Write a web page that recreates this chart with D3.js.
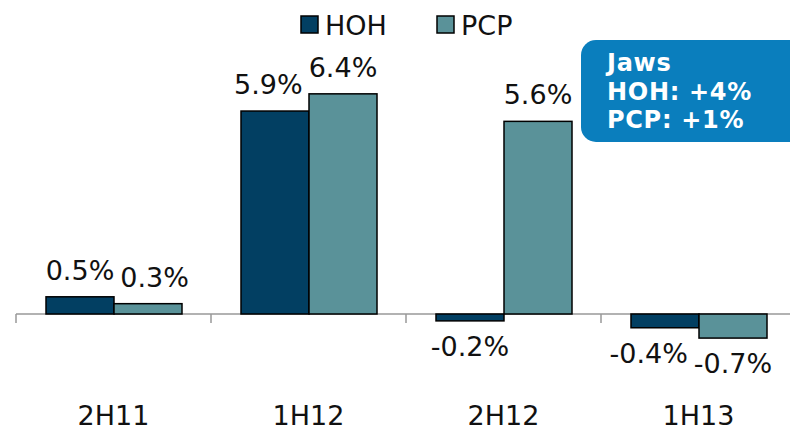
<!DOCTYPE html>
<html><head><meta charset="utf-8">
<script src="https://cdn.jsdelivr.net/npm/d3@7"></script>
<style>
body{margin:0;background:#fff;}
svg{display:block;font-family:"DejaVu Sans",Verdana,sans-serif;}
</style></head>
<body><svg id="c" width="790" height="432"></svg>
<script>
const categories = ["2H11","1H12","2H12","1H13"];
const seriesNames = ["HOH","PCP"];
const hohValues = [0.5, 5.9, -0.2, -0.4];
const pcpValues = [0.3, 6.4, 5.6, -0.7];
const calloutLines = ["Jaws","HOH: +4%","PCP: +1%"];
const colors = ["#023f62","#5a9299"];

const svg = d3.select("#c");
const x0 = d3.scaleBand().domain(categories).range([16, 796]);
const x1 = d3.scaleBand().domain(seriesNames).range([30, 166]);
const y = d3.scaleLinear().domain([-1, 7]).range([348.4, 73.2]);
const FS = 27;

const data = categories.map((c,i)=>({cat:c, vals:[
  {s:"HOH", v:hohValues[i], col:colors[0]},
  {s:"PCP", v:pcpValues[i], col:colors[1]}]}));

// axis
const ax = svg.append("g").attr("transform",`translate(0,${y(0)})`);
ax.append("line").attr("x1",16).attr("x2",790).attr("y1",0).attr("y2",0)
  .attr("stroke","#999").attr("stroke-width",1.5);
const tickXs = categories.map(c=>x0(c)).concat([x0.range()[1]]);
ax.selectAll("line.t").data(tickXs).join("line").attr("class","t")
  .attr("x1",d=>d).attr("x2",d=>d).attr("y1",0).attr("y2",9)
  .attr("stroke","#999").attr("stroke-width",1.5);
svg.append("g").selectAll("text").data(categories).join("text")
  .attr("x",d=>x0(d)+x0.bandwidth()/2).attr("y",425)
  .attr("text-anchor","middle").attr("font-size",FS)
  .attr("fill","#111").text(d=>d);

// bars
const g = svg.append("g").selectAll("g").data(data).join("g")
  .attr("transform",d=>`translate(${x0(d.cat)},0)`);
g.selectAll("rect").data(d=>d.vals).join("rect")
  .attr("x",d=>x1(d.s)).attr("width",x1.bandwidth())
  .attr("y",d=>y(Math.max(0,d.v))).attr("height",d=>Math.abs(y(d.v)-y(0)))
  .attr("fill",d=>d.col).attr("stroke","#000").attr("stroke-width",1.5);

// labels
g.selectAll("text").data(d=>d.vals).join("text")
  .attr("x",d=>x1(d.s)+x1.bandwidth()/2)
  .attr("y",d=>d.v>=0 ? y(d.v)-17 : y(d.v)+35)
  .attr("text-anchor","middle").attr("font-size",FS)
  .attr("fill","#111").text(d=>d.v.toFixed(1)+"%");
// simple collision avoidance within each group
g.each(function(){
  const ts = d3.select(this).selectAll("text").nodes();
  if(ts.length<2) return;
  const b = ts.map(t=>t.getBBox());
  const vOverlap = !(b[0].y+b[0].height<b[1].y || b[1].y+b[1].height<b[0].y);
  const c0 = b[0].x+b[0].width/2, c1 = b[1].x+b[1].width/2;
  const need = (b[0].width+b[1].width)/2 + 6;
  if(vOverlap && c1-c0 < need){
    const diff = need-(c1-c0);
    const d0 = d3.select(ts[0]).datum(), d1 = d3.select(ts[1]).datum();
    if(Math.abs(d0.v) < Math.abs(d1.v)) d3.select(ts[0]).attr("x", +ts[0].getAttribute("x")-diff);
    else d3.select(ts[1]).attr("x", +ts[1].getAttribute("x")+diff);
  }
});

// legend
const lg = svg.append("g");
const legX = [301, 437];
seriesNames.forEach((s,i)=>{
  lg.append("rect").attr("x",legX[i]).attr("y",16).attr("width",17).attr("height",17)
    .attr("fill",colors[i]).attr("stroke","#000").attr("stroke-width",1.5);
  lg.append("text").attr("x",legX[i]+24).attr("y",35).attr("font-size",FS)
    .attr("fill","#111").text(s);
});

// callout
svg.append("rect").attr("x",581).attr("y",40).attr("width",240).attr("height",102)
  .attr("rx",15).attr("fill","#0a7ebd");
svg.append("g").selectAll("text").data(calloutLines).join("text")
  .attr("x",607).attr("y",(d,i)=>71+i*28.6).attr("font-size",24).attr("font-weight","bold")
  .attr("letter-spacing",0.7).attr("fill","#fff").text(d=>d);
</script></body></html>
